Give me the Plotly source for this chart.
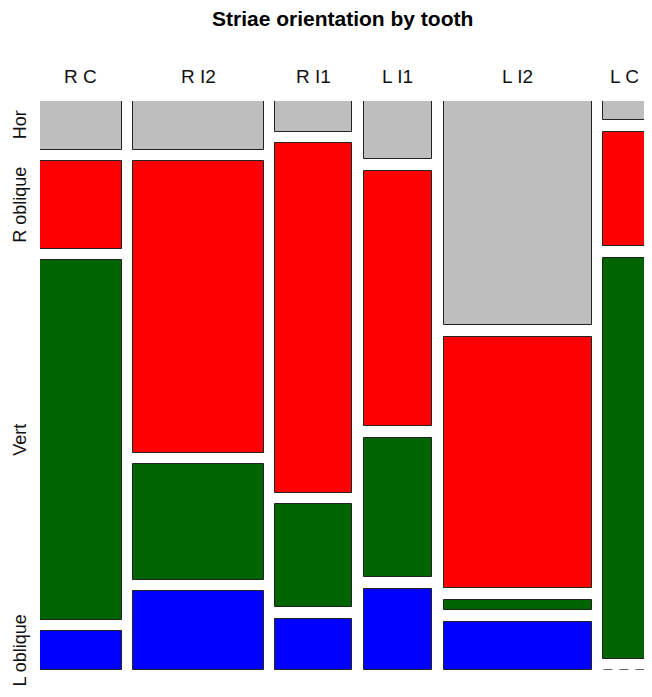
import plotly.graph_objects as go

# counts per tooth (columns) and striae orientation (rows)
teeth = ["R C", "R I2", "R I1", "L I1", "L I2", "L C"]
orientations = ["Hor", "R oblique", "Vert", "L oblique"]
hor = [5, 8, 3, 5, 42, 1]
r_oblique = [9, 48, 34, 22, 47, 6]
vert = [37, 19, 10, 12, 2, 21]
l_oblique = [4, 13, 5, 7, 9, 0]
colors = ["#BEBEBE", "#FF0000", "#006400", "#0000FF"]

# the page body has an 8px margin, so the figure is placed 8px in
PAGE_OFF = 8
W, H = 652 - PAGE_OFF, 697 - PAGE_OFF
LEFT, RIGHT = 40 - PAGE_OFF, 645 - PAGE_OFF
TOP, BOTTOM = 101 - PAGE_OFF, 670 - PAGE_OFF
GAP_X = 11.4 / (RIGHT - LEFT)
GAP_Y = 11.5 / (BOTTOM - TOP)
FONT = "Liberation Sans, Arial, sans-serif"

rows = [hor, r_oblique, vert, l_oblique]
totals = [sum(c) for c in zip(*rows)]
grand = sum(totals)

# column positions
widths = [(1 - GAP_X * (len(teeth) - 1)) * t / grand for t in totals]
starts = []
pos = 0.0
for w in widths:
    starts.append(pos)
    pos += w + GAP_X
centers = [s + w / 2 for s, w in zip(starts, widths)]

# row positions inside each column
usable = 1 - GAP_Y * (len(orientations) - 1)
bases = [[0.0] * len(teeth) for _ in rows]
heights = [[0.0] * len(teeth) for _ in rows]
for j, t in enumerate(totals):
    y = 0.0
    for i, r in enumerate(rows):
        h = usable * r[j] / t
        bases[i][j] = y
        heights[i][j] = h
        y += h + GAP_Y

fig = go.Figure()
for i, name in enumerate(orientations):
    fig.add_trace(go.Bar(
        x=centers,
        y=[h if h > 0 else None for h in heights[i]],
        base=bases[i],
        width=widths,
        name=name,
        marker=dict(color=colors[i], line=dict(color="#222222", width=1)),
        showlegend=False,
    ))

# empty cells are drawn as a dashed line
for i, r in enumerate(rows):
    for j, v in enumerate(r):
        if v == 0:
            fig.add_trace(go.Scatter(
                x=[starts[j], starts[j] + widths[j]],
                y=[bases[i][j], bases[i][j]],
                mode="lines",
                line=dict(color="#333333", width=1.5, dash="9px,7px"),
                showlegend=False,
                hoverinfo="skip",
            ))

annotations = [dict(
    text="<b>Striae orientation by tooth</b>",
    xref="x", x=0.5, yref="paper", y=1 - (19 - PAGE_OFF) / H,
    showarrow=False, xanchor="center", yanchor="middle",
    font=dict(family=FONT, size=21, color="#000000"),
)]
for c, name in zip(centers, teeth):
    annotations.append(dict(
        text=name, xref="x", x=c, yref="paper", y=1 - (77 - PAGE_OFF) / H,
        showarrow=False, xanchor="center", yanchor="middle",
        font=dict(family=FONT, size=19, color="#111111"),
    ))
for i, name in enumerate(orientations):
    annotations.append(dict(
        text=name, xref="paper", x=(20 - PAGE_OFF) / W, yref="y",
        y=bases[i][0] + heights[i][0] / 2,
        textangle=-90, showarrow=False, xanchor="center", yanchor="middle",
        font=dict(family=FONT, size=18, color="#111111"),
    ))

fig.update_layout(
    width=W, height=H,
    margin=dict(l=0, r=0, t=0, b=0),
    paper_bgcolor="white", plot_bgcolor="white",
    barmode="overlay", bargap=0,
    xaxis=dict(range=[0, 1], domain=[LEFT / W, RIGHT / W], visible=False),
    yaxis=dict(range=[1, 0], domain=[1 - BOTTOM / H, 1 - TOP / H], visible=False),
    annotations=annotations,
)

fig.write_html("out.html")
